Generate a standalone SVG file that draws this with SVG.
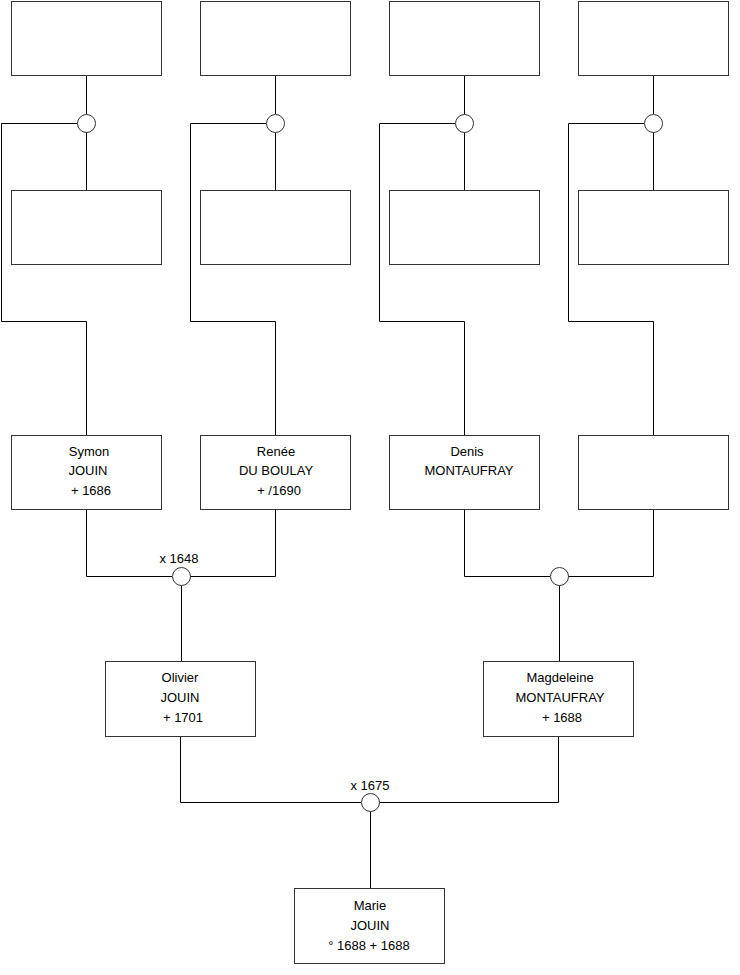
<svg xmlns="http://www.w3.org/2000/svg" width="740" height="975" viewBox="0 0 740 975">
<style>
.box{fill:#fff;stroke:#333;stroke-width:1}
.ln{fill:none;stroke:#000;stroke-width:1}
.c{fill:#fff;stroke:#333;stroke-width:1}
text{font-family:"Liberation Sans",Arial,sans-serif;font-size:13px;fill:#000;text-anchor:middle}
</style>
<rect width="740" height="975" fill="#fff"/>
<g id="connectors">
<path class="ln" d="M86.5 76V114M86.5 132V190M77.5 123.5H1.5V321.5H86.5V435"/>
<path class="ln" d="M275.5 76V114M275.5 132V190M266.5 123.5H190.5V321.5H275.5V435"/>
<path class="ln" d="M464.5 76V114M464.5 132V190M455.5 123.5H379.5V321.5H464.5V435"/>
<path class="ln" d="M653.5 76V114M653.5 132V190M644.5 123.5H568.5V321.5H653.5V435"/>
<path class="ln" d="M86.5 510V576.5H172M275.5 510V576.5H190M181.5 585.5V661"/>
<path class="ln" d="M464.5 510V576.5H550M653.5 510V576.5H568M559.5 585.5V661"/>
<path class="ln" d="M180.5 737V802.5H361M558.5 737V802.5H379M370.5 811.5V888"/>
</g>
<g id="u1"><circle class="c" cx="86.5" cy="123.5" r="9"/></g>
<g id="u2"><circle class="c" cx="275.5" cy="123.5" r="9"/></g>
<g id="u3"><circle class="c" cx="464.5" cy="123.5" r="9"/></g>
<g id="u4"><circle class="c" cx="653.5" cy="123.5" r="9"/></g>
<g id="u5"><circle class="c" cx="181.5" cy="576.5" r="9"/><text x="179" y="563">x 1648</text></g>
<g id="u6"><circle class="c" cx="559.5" cy="576.5" r="9"/></g>
<g id="u7"><circle class="c" cx="370.5" cy="802.5" r="9"/><text x="370" y="790">x 1675</text></g>
<g id="p1"><rect class="box" x="11.5" y="1.5" width="150" height="74"/></g>
<g id="p2"><rect class="box" x="200.5" y="1.5" width="150" height="74"/></g>
<g id="p3"><rect class="box" x="389.5" y="1.5" width="150" height="74"/></g>
<g id="p4"><rect class="box" x="578.5" y="1.5" width="150" height="74"/></g>
<g id="p5"><rect class="box" x="11.5" y="190.5" width="150" height="74"/></g>
<g id="p6"><rect class="box" x="200.5" y="190.5" width="150" height="74"/></g>
<g id="p7"><rect class="box" x="389.5" y="190.5" width="150" height="74"/></g>
<g id="p8"><rect class="box" x="578.5" y="190.5" width="150" height="74"/></g>
<g id="symon"><rect class="box" x="11.5" y="435.5" width="150" height="74"/><text x="89" y="456">Symon</text><text x="88" y="475">JOUIN</text><text x="91" y="495">+ 1686</text></g>
<g id="renee"><rect class="box" x="200.5" y="435.5" width="150" height="74"/><text x="276" y="456">Renée</text><text x="276" y="475">DU BOULAY</text><text x="279" y="495">+ /1690</text></g>
<g id="denis"><rect class="box" x="389.5" y="435.5" width="150" height="74"/><text x="467" y="456">Denis</text><text x="469" y="475">MONTAUFRAY</text></g>
<g id="p12"><rect class="box" x="578.5" y="435.5" width="150" height="74"/></g>
<g id="olivier"><rect class="box" x="105.5" y="661.5" width="150" height="75"/><text x="180" y="682">Olivier</text><text x="180" y="702">JOUIN</text><text x="183" y="722">+ 1701</text></g>
<g id="magdeleine"><rect class="box" x="483.5" y="661.5" width="150" height="75"/><text x="560" y="682">Magdeleine</text><text x="560" y="702">MONTAUFRAY</text><text x="562" y="722">+ 1688</text></g>
<g id="marie"><rect class="box" x="294.5" y="888.5" width="150" height="75"/><text x="370" y="910">Marie</text><text x="370" y="930">JOUIN</text><text x="369" y="950">° 1688 + 1688</text></g>
</svg>
